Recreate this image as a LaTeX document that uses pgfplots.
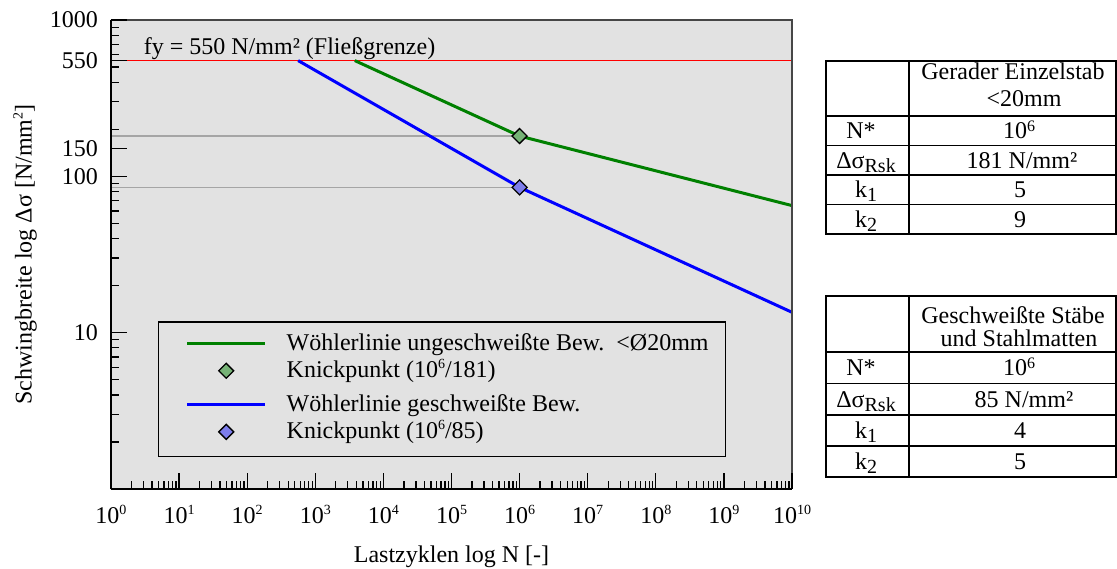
\documentclass[border=0pt]{standalone}
\usepackage{fontspec}
\setmainfont{Liberation Serif}
\usepackage{pgfplots}
\pgfplotsset{compat=1.18}

\definecolor{plotbg}{RGB}{226,226,226}
\definecolor{framegray}{RGB}{70,70,70}
\definecolor{refgray}{RGB}{165,165,165}
\definecolor{wgreen}{RGB}{0,128,0}
\definecolor{wblue}{RGB}{0,0,255}
\definecolor{kgreen}{RGB}{118,178,118}
\definecolor{kblue}{RGB}{125,125,235}

\newcommand\fs{\fontsize{24}{28}\selectfont}
\newcommand\ex[1]{\raisebox{9pt}{\fontsize{14}{14}\selectfont #1}}
\newcommand\tsup[1]{\raisebox{7pt}{\fontsize{16}{16}\selectfont #1}}
\newcommand\tsub[1]{\raisebox{-4pt}{\fontsize{20}{20}\selectfont #1}}

\pgfplotsset{
  wide legend/.style={legend image code/.code={%
    \path (0pt,7pt) (98pt,7pt);
    \draw[mark repeat=2,mark phase=2,##1] plot coordinates {(10pt,7pt) (49pt,7pt) (88pt,7pt)};}},
  knick/.style={only marks, mark=square*, mark size=5.3pt,
    mark options={rotate=45, draw=black, line width=1.3pt, fill=#1}},
  woehler/.style={draw=#1, line width=3pt, mark=none, line join=round},
}

\begin{document}
\begin{tikzpicture}[font=\fs]
\useasboundingbox (0pt,0pt) rectangle (1117pt,568pt);
\begin{axis}[
  at={(111pt,79pt)}, anchor=south west,
  scale only axis, width=681pt, height=469pt,
  xmode=log, ymode=log,
  xmin=1, xmax=1e10, ymin=1, ymax=1000,
  axis background/.style={fill=plotbg},
  axis x line*=bottom, axis y line*=left,
  axis line style={-, draw=black, line width=2pt},
  axis on top, clip=false,
  tick align=inside,
  major tick length=16pt, minor tick length=8pt,
  tick style={black, line width=1.3pt},
  xtick={1,10,100,1000,1e4,1e5,1e6,1e7,1e8,1e9,1e10},
  xticklabels={10\ex{0},10\ex{1},10\ex{2},10\ex{3},10\ex{4},10\ex{5},10\ex{6},10\ex{7},10\ex{8},10\ex{9},10\ex{10}},
  minor xtick={2,3,4,5,6,7,8,9,
    20,30,40,50,60,70,80,90,
    200,300,400,500,600,700,800,900,
    2e3,3e3,4e3,5e3,6e3,7e3,8e3,9e3,
    2e4,3e4,4e4,5e4,6e4,7e4,8e4,9e4,
    2e5,3e5,4e5,5e5,6e5,7e5,8e5,9e5,
    2e6,3e6,4e6,5e6,6e6,7e6,8e6,9e6,
    2e7,3e7,4e7,5e7,6e7,7e7,8e7,9e7,
    2e8,3e8,4e8,5e8,6e8,7e8,8e8,9e8,
    2e9,3e9,4e9,5e9,6e9,7e9,8e9,9e9},
  ytick={10,100,150,550,1000},
  yticklabels={10,100,150,550,1000},
  minor ytick={2,3,4,5,6,7,8,9,20,30,40,50,60,70,80,90,200,300,400,500,600,700,800,900},
  xticklabel style={anchor=base, yshift=-34pt, font=\fs},
  yticklabel style={anchor=east, inner sep=0pt, xshift=-13pt, font=\fs},
  xlabel={Lastzyklen log N [-]},
  ylabel={Schwingbreite log Δσ [N/mm\ex{2}]},
  every axis x label/.style={at={([yshift=-68pt]rel axis cs:0.5,0)}, anchor=center, font=\fs},
  every axis y label/.style={at={([xshift=-86pt]rel axis cs:0,0.5)}, rotate=90, anchor=center, font=\fs},
  legend style={at={(rel axis cs:0.069,0.358)}, anchor=north west,
    draw=black, line width=1.5pt, fill=plotbg,
    inner xsep=17pt, inner ysep=11.5pt,
    row sep=3.2pt, column sep=10pt,
    nodes={inner sep=0pt, text depth=6pt, font=\fs},
    cells={anchor=base west}},
]
% horizontal guides to the knee points
\addplot[forget plot, refgray, line width=1.5pt] coordinates {(1,181) (1e6,181)};
\addplot[forget plot, refgray, line width=1.5pt] coordinates {(1,85) (1e6,85)};
% yield strength
\addplot[forget plot, red, line width=1.3pt] coordinates {(1,550) (1e10,550)};
% knee points
\addplot[forget plot, knick=kgreen] coordinates {(1e6,181)};
\addplot[forget plot, knick=kblue] coordinates {(1e6,85)};
% S-N curves
\addplot[forget plot, woehler=wgreen] coordinates {(3800,550) (1e6,181) (1e10,65)};
\addplot[forget plot, woehler=wblue] coordinates {(560,550) (1e6,85) (1e10,13.5)};
% top and right frame
\draw[framegray, line width=1.5pt] (rel axis cs:0,1) -- (rel axis cs:1,1) -- (rel axis cs:1,0);

\addlegendimage{woehler=wgreen, wide legend}
\addlegendentry{\rule{0pt}{17pt}Wöhlerlinie ungeschweißte Bew.\ \ <Ø20mm}
\addlegendimage{knick=kgreen, wide legend}
\addlegendentry{\rule{0pt}{17pt}Knickpunkt (10\ex{6}/181)}
\addlegendimage{woehler=wblue, wide legend}
\addlegendentry{\rule{0pt}{24.4pt}Wöhlerlinie geschweißte Bew.}
\addlegendimage{knick=kblue, wide legend}
\addlegendentry{\rule{0pt}{17pt}\rule[-8pt]{0pt}{1pt}Knickpunkt (10\ex{6}/85)}

\node[anchor=base west, inner sep=0pt, font=\fs] at (rel axis cs:0.048,0.927) {fy = 550 N/mm² (Fließgrenze)};
\end{axis}

% parameter table: straight single bars
\begin{scope}[line width=1.8pt]
\draw (826pt,507pt) rectangle (1116pt,334pt);
\draw (909pt,507pt) -- (909pt,334pt);
\foreach \y in {452,422.5,393,363.5} \draw (826pt,\y pt) -- (1116pt,\y pt);
\end{scope}
\node[anchor=base] at (1013pt,488pt) {Gerader Einzelstab};
\node[anchor=base] at (1024pt,461pt) {<20mm};
\node[anchor=base] at (861pt,429.25pt) {N*};
\node[anchor=base] at (1019pt,429.25pt) {10\tsup{6}};
\node[anchor=base] at (866pt,399.75pt) {Δσ\tsub{Rsk}};
\node[anchor=base] at (1022pt,399.75pt) {181 N/mm²};
\node[anchor=base] at (866pt,370.25pt) {k\tsub{1}};
\node[anchor=base] at (1020pt,370.25pt) {5};
\node[anchor=base] at (866pt,340.75pt) {k\tsub{2}};
\node[anchor=base] at (1020pt,340.75pt) {9};

% parameter table: welded bars and meshes
\begin{scope}[line width=1.8pt]
\draw (826pt,272pt) rectangle (1116pt,90.7pt);
\draw (909pt,272pt) -- (909pt,90.7pt);
\foreach \y in {215.7,184.5,153.2,122} \draw (826pt,\y pt) -- (1116pt,\y pt);
\end{scope}
\node[anchor=base] at (1013pt,244pt) {Geschweißte Stäbe};
\node[anchor=base] at (1019pt,221pt) {und Stahlmatten};
\node[anchor=base] at (861pt,192.1pt) {N*};
\node[anchor=base] at (1019pt,192.1pt) {10\tsup{6}};
\node[anchor=base] at (866pt,160.8pt) {Δσ\tsub{Rsk}};
\node[anchor=base] at (1024pt,160.8pt) {85 N/mm²};
\node[anchor=base] at (866pt,129.6pt) {k\tsub{1}};
\node[anchor=base] at (1020pt,129.6pt) {4};
\node[anchor=base] at (866pt,98.3pt) {k\tsub{2}};
\node[anchor=base] at (1020pt,98.3pt) {5};
\end{tikzpicture}
\end{document}
